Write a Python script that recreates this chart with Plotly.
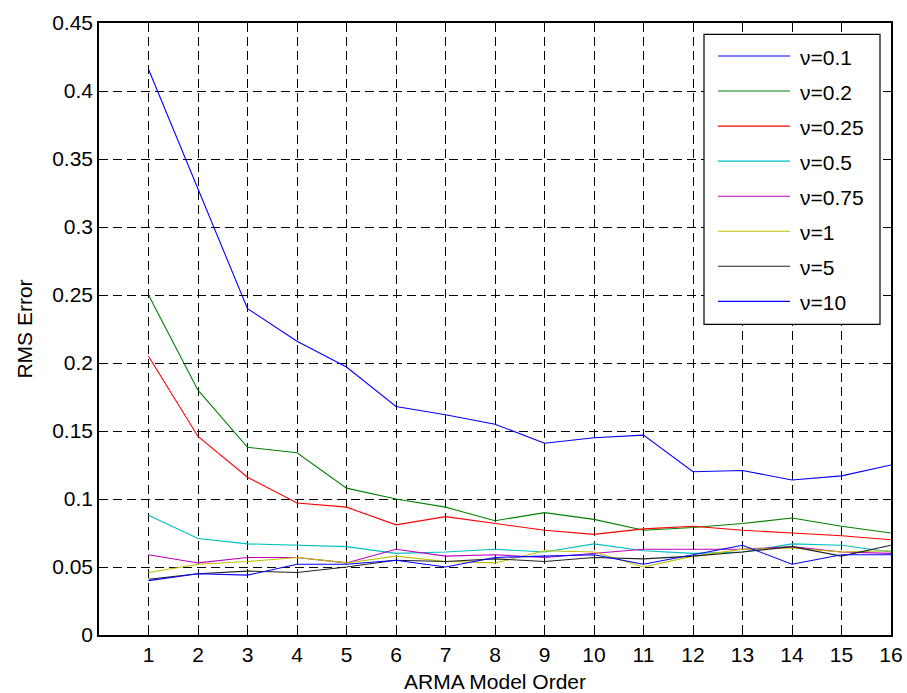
import plotly.graph_objects as go

# ARMA model orders on the x axis
orders = list(range(1, 17))

# RMS error per model order for each value of nu
nu_labels = ["ν=0.1", "ν=0.2", "ν=0.25", "ν=0.5", "ν=0.75", "ν=1", "ν=5", "ν=10"]
rms_nu_0_1 = [0.416, 0.328, 0.240, 0.216, 0.197, 0.168, 0.162, 0.155, 0.141, 0.145, 0.147, 0.120, 0.121, 0.114, 0.117, 0.125]
rms_nu_0_2 = [0.250, 0.180, 0.138, 0.134, 0.108, 0.100, 0.094, 0.084, 0.090, 0.085, 0.077, 0.079, 0.082, 0.086, 0.080, 0.075]
rms_nu_0_25 = [0.205, 0.146, 0.116, 0.097, 0.094, 0.081, 0.087, 0.082, 0.077, 0.074, 0.078, 0.080, 0.077, 0.075, 0.073, 0.070]
rms_nu_0_5 = [0.088, 0.071, 0.067, 0.066, 0.065, 0.060, 0.061, 0.063, 0.061, 0.067, 0.062, 0.060, 0.061, 0.067, 0.066, 0.061]
rms_nu_0_75 = [0.059, 0.053, 0.057, 0.057, 0.053, 0.063, 0.058, 0.059, 0.057, 0.060, 0.063, 0.063, 0.063, 0.065, 0.061, 0.060]
rms_nu_1 = [0.046, 0.052, 0.054, 0.057, 0.053, 0.058, 0.054, 0.053, 0.062, 0.061, 0.050, 0.058, 0.063, 0.064, 0.061, 0.062]
rms_nu_5 = [0.041, 0.045, 0.047, 0.046, 0.050, 0.055, 0.054, 0.056, 0.054, 0.057, 0.056, 0.058, 0.061, 0.065, 0.058, 0.066]
rms_nu_10 = [0.040, 0.045, 0.044, 0.052, 0.052, 0.055, 0.050, 0.057, 0.058, 0.059, 0.052, 0.059, 0.066, 0.052, 0.059, 0.059]

series = [rms_nu_0_1, rms_nu_0_2, rms_nu_0_25, rms_nu_0_5,
          rms_nu_0_75, rms_nu_1, rms_nu_5, rms_nu_10]
colors = ["#0000FF", "#008000", "#FF0000", "#00BFBF",
          "#BF00BF", "#BFBF00", "#222222", "#0000FF"]

y_tick_vals = [0, 0.05, 0.1, 0.15, 0.2, 0.25, 0.3, 0.35, 0.4, 0.45]
y_tick_text = ["0", "0.05", "0.1", "0.15", "0.2", "0.25", "0.3", "0.35", "0.4", "0.45"]

FONT = "Liberation Sans, Arial, sans-serif"
FS = 21

fig = go.Figure()
for name, vals, col in zip(nu_labels, series, colors):
    fig.add_trace(go.Scatter(x=orders, y=vals, mode="lines", name=name,
                             line=dict(color=col, width=1.1), showlegend=False))

axis_common = dict(
    showline=True, linecolor="black", linewidth=1.6, mirror="ticks",
    ticks="inside", ticklen=6, tickcolor="black", tickwidth=1,
    showgrid=True, gridcolor="black", gridwidth=1, griddash="9px,5px",
    zeroline=False, automargin=False,
    tickfont=dict(family=FONT, size=FS, color="black"),
)

fig.update_xaxes(range=[0, 16], tickvals=orders, **axis_common,
                 title=dict(text="ARMA Model Order", standoff=10,
                            font=dict(family=FONT, size=FS, color="black")))
fig.update_yaxes(range=[0, 0.45], tickvals=y_tick_vals, ticktext=y_tick_text,
                 **axis_common,
                 title=dict(text="RMS Error", standoff=14,
                            font=dict(family=FONT, size=FS, color="black")))

# Boxed legend in the upper right corner of the axes
W, H = 792.0, 612.0
def px_x(p):
    return (p - 99.0) / W
def px_y(p):
    return (634.7 - p) / H

shapes = [dict(type="rect", xref="paper", yref="paper",
               x0=px_x(704), x1=px_x(880), y0=px_y(324), y1=px_y(34),
               line=dict(color="black", width=1.2), fillcolor="white", layer="above")]
annotations = []
for i, (name, col) in enumerate(zip(nu_labels, colors)):
    yc = 55.7 + 35.05 * i
    shapes.append(dict(type="line", xref="paper", yref="paper",
                       x0=px_x(718), x1=px_x(790), y0=px_y(yc), y1=px_y(yc),
                       line=dict(color=col, width=1.1), layer="above"))
    annotations.append(dict(xref="paper", yref="paper", x=px_x(798), y=px_y(yc + 1),
                            text=name, showarrow=False, xanchor="left", yanchor="middle",
                            font=dict(family=FONT, size=FS, color="black")))

fig.update_layout(
    width=907, height=693,
    margin=dict(l=99, r=16, t=22.7, b=58.3),
    paper_bgcolor="white", plot_bgcolor="white",
    shapes=shapes, annotations=annotations,
    font=dict(family=FONT, size=FS, color="black"),
)

fig.write_html("out.html")
